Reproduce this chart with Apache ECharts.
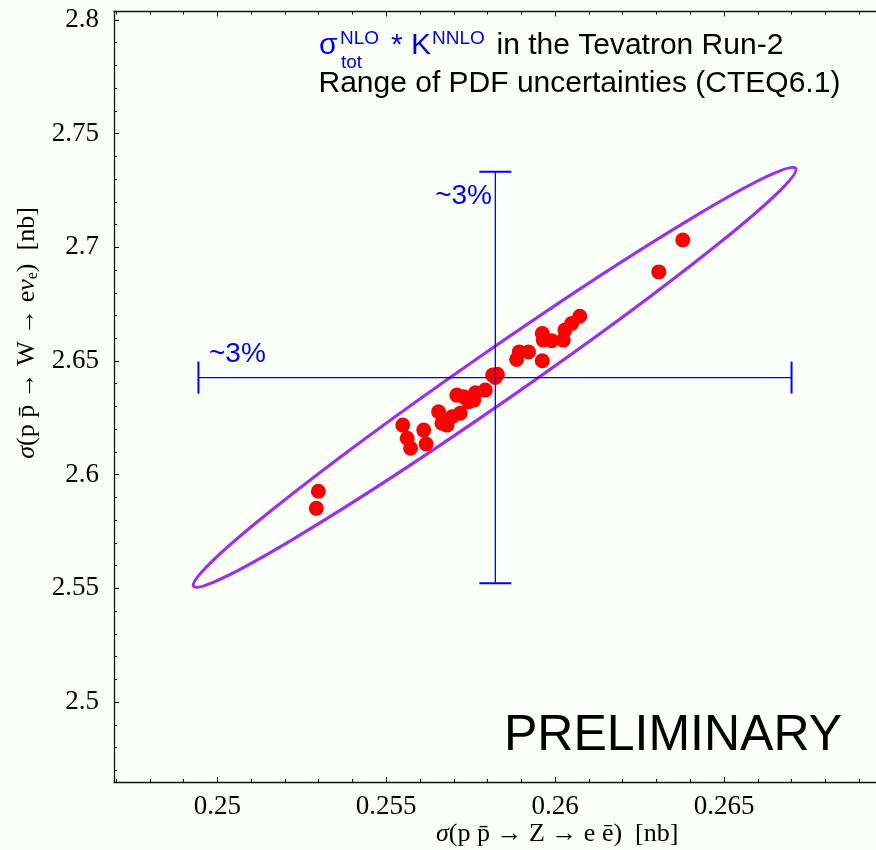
<!DOCTYPE html>
<html>
<head>
<meta charset="utf-8">
<script src="https://cdn.jsdelivr.net/npm/echarts@6.0.0/dist/echarts.min.js"></script>
<style>
html,body{margin:0;padding:0;background:#fafffa;}
#c{width:876px;height:850px;}
</style>
</head>
<body>
<div id="c"></div>
<script>
// ---- data ----
// sigma(p pbar -> Z -> e e) [nb] for each PDF member
const sigmaZ = [0.25299, 0.25293, 0.25549, 0.25562, 0.25572, 0.25611, 0.25618, 0.25655,
                0.25665, 0.25680, 0.25695, 0.25719, 0.25709, 0.25729, 0.25744, 0.25759,
                0.25764, 0.25793, 0.25815, 0.25823, 0.25829, 0.25886, 0.25894, 0.25921,
                0.25962, 0.25962, 0.25965, 0.25990, 0.26024, 0.26029, 0.26049, 0.26073,
                0.26307, 0.26378];
// sigma(p pbar -> W -> e nu) [nb] for each PDF member
const sigmaW = [2.5927, 2.5852, 2.6218, 2.6160, 2.6116, 2.6196, 2.6135, 2.6277,
                2.6226, 2.6218, 2.6255, 2.6270, 2.6350, 2.6343, 2.6321, 2.6328,
                2.6360, 2.6372, 2.6438, 2.6428, 2.6442, 2.6507, 2.6540, 2.6540,
                2.6621, 2.6501, 2.6592, 2.6589, 2.6592, 2.6636, 2.6665, 2.6697,
                2.6892, 2.7032];
// axis ranges
const xRange = [0.24694, 0.2695];
const yRange = [2.46482, 2.80374];
// ~3% bars: centre and extents
const barCenter = [0.25823, 2.6427];
const barZ = [0.24944, 0.26700];
const barW = [2.5522, 2.7332];
// PDF-uncertainty ellipse: centre, end of the major half-axis, end of the minor half-axis
const ellipseCenter = [0.25821, 2.64283];
const ellipseMajorTip = [0.267123, 2.734743];
const ellipseMinorTip = [0.258637, 2.633667];
// text
const titleLine2 = 'Range of PDF uncertainties (CTEQ6.1)';
const titleTail = 'in the Tevatron Run-2';
const barLabel = '~3%';
const stamp = 'PRELIMINARY';

// ---- chart ----
const serif = '"Liberation Serif", "Times New Roman", serif';
const sans = '"Liberation Sans", Arial, sans-serif';
const blue = '#0000ff';
const textBlue = '#0000e8';
const purple = '#9b30f0';

const chart = echarts.init(document.getElementById('c'), null, {renderer: 'canvas', width: 876, height: 850});

function axisBase(range) {
  return {
    type: 'value', min: range[0], max: range[1], splitNumber: 5, scale: true,
    axisLine: {show: true, onZero: false, lineStyle: {color: '#111', width: 1.3}},
    axisTick: {show: true, inside: true, length: 5, lineStyle: {color: '#111', width: 1}},
    minorTick: {show: true, splitNumber: 5, length: 3, lineStyle: {color: '#111', width: 1}},
    splitLine: {show: false}, minorSplitLine: {show: false}
  };
}

const pts = sigmaZ.map((z, i) => [z, sigmaW[i]]);

function txt(x, y, text, family, size, color, align, extra) {
  return Object.assign({
    type: 'text', x: x, y: y, z: 50,
    style: {text: text, fontFamily: family, fontSize: size, fill: color,
            align: align || 'left', verticalAlign: 'middle'}
  }, extra || {});
}

const option = {
  animation: false,
  backgroundColor: '#fafffa',
  grid: {left: 114, top: 11.5, width: 764.3, height: 770.5, containLabel: false},
  xAxis: [
    Object.assign(axisBase(xRange), {
      position: 'bottom',
      axisLabel: {show: true, fontFamily: serif, fontSize: 27, color: '#000', margin: 11,
                  showMinLabel: false, showMaxLabel: false}
    }),
    Object.assign(axisBase(xRange), {
      position: 'top', axisLabel: {show: false}
    })
  ],
  yAxis: [
    Object.assign(axisBase(yRange), {
      position: 'left',
      axisLabel: {show: true, fontFamily: serif, fontSize: 27, color: '#000', margin: 15,
                  showMinLabel: false, showMaxLabel: false}
    })
  ],
  series: [
    {
      type: 'custom', name: 'ellipse', z: 2, silent: true,
      encode: {x: [0, 2, 4], y: [1, 3, 5]},
      data: [[ellipseCenter[0], ellipseCenter[1], ellipseMajorTip[0], ellipseMajorTip[1],
              ellipseMinorTip[0], ellipseMinorTip[1]]],
      renderItem: function (params, api) {
        const pc = api.coord([api.value(0), api.value(1)]);
        const pM = api.coord([api.value(2), api.value(3)]);
        const pm = api.coord([api.value(4), api.value(5)]);
        const rx = Math.hypot(pM[0] - pc[0], pM[1] - pc[1]);
        const ry = Math.hypot(pm[0] - pc[0], pm[1] - pc[1]);
        const rot = -Math.atan2(pM[1] - pc[1], pM[0] - pc[0]);
        return {
          type: 'ellipse', x: pc[0], y: pc[1], rotation: rot,
          shape: {cx: 0, cy: 0, rx: rx, ry: ry},
          style: {fill: 'none', stroke: purple, lineWidth: 3.2}
        };
      }
    },
    {
      type: 'scatter', name: 'PDF sets', z: 3, silent: true,
      symbol: 'circle', symbolSize: 15,
      itemStyle: {color: '#ff0000', opacity: 1},
      data: pts
    },
    {
      type: 'custom', name: 'bars', z: 4, silent: true,
      encode: {x: [0, 2], y: [1, 3]},
      data: [[barZ[0], barCenter[1], barZ[1], barCenter[1]],
             [barCenter[0], barW[0], barCenter[0], barW[1]]],
      renderItem: function (params, api) {
        const p1 = api.coord([api.value(0), api.value(1)]);
        const p2 = api.coord([api.value(2), api.value(3)]);
        const horiz = Math.abs(p2[0] - p1[0]) > Math.abs(p2[1] - p1[1]);
        const c = 16;
        const mk = (x1, y1, x2, y2, w) => ({type: 'line', shape: {x1: x1, y1: y1, x2: x2, y2: y2},
                                             style: {stroke: blue, lineWidth: w}});
        const kids = [mk(p1[0], p1[1], p2[0], p2[1], 1.3)];
        if (horiz) {
          kids.push(mk(p1[0], p1[1] - c, p1[0], p1[1] + c, 2));
          kids.push(mk(p2[0], p2[1] - c, p2[0], p2[1] + c, 2));
        } else {
          kids.push(mk(p1[0] - c, p1[1], p1[0] + c, p1[1], 2));
          kids.push(mk(p2[0] - c, p2[1], p2[0] + c, p2[1], 2));
        }
        return {type: 'group', children: kids};
      }
    }
  ],
  graphic: [
    txt(319, 45.7, 'σ', sans, 30, textBlue),
    txt(340, 39, 'NLO', sans, 19, textBlue),
    txt(341, 62.4, 'tot', sans, 19, textBlue),
    txt(391, 45.7, '*', sans, 30, textBlue),
    txt(411, 45.7, 'K', sans, 30, textBlue),
    txt(432, 39, 'NNLO', sans, 19, textBlue),
    txt(496.5, 45.7, titleTail, sans, 30, '#000'),
    txt(318.5, 84, titleLine2, sans, 30, '#000'),
    txt(209, 354.6, barLabel, sans, 28, textBlue),
    txt(492, 196.3, barLabel, sans, 28, textBlue, 'right'),
    txt(842, 736, stamp, sans, 50, '#000', 'right'),
    {
      type: 'text', x: 436, y: 834, z: 50,
      style: {
        text: '{i|σ}(p p\u0304 → Z → e e\u0304)  [nb]',
        fontFamily: serif, fontSize: 26, fill: '#000', align: 'left', verticalAlign: 'middle',
        rich: {i: {fontFamily: serif, fontSize: 26, fontStyle: 'italic', fill: '#000'}}
      }
    },
    {
      type: 'text', x: 27, y: 333, z: 50, rotation: Math.PI / 2,
      style: {
        text: '{i|σ}(p p\u0304 → W → e{i|ν}{s|e})  [nb]',
        fontFamily: serif, fontSize: 26, fill: '#000', align: 'center', verticalAlign: 'middle',
        rich: {
          i: {fontFamily: serif, fontSize: 26, fontStyle: 'italic', fill: '#000'},
          s: {fontFamily: serif, fontSize: 16, fill: '#000', verticalAlign: 'bottom', padding: [11, 0, 0, 0]}
        }
      }
    }
  ]
};
chart.setOption(option);
</script>
</body>
</html>
